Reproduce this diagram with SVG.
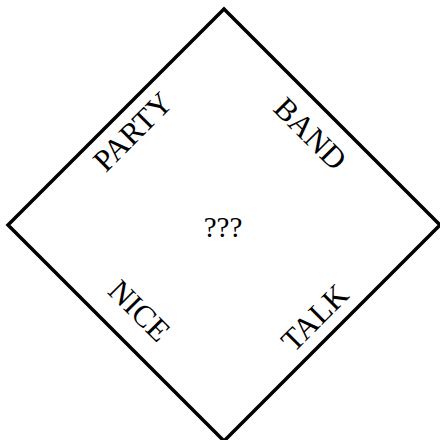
<svg xmlns="http://www.w3.org/2000/svg" width="440" height="440" viewBox="0 0 440 440">
<style>
.lbl{font-family:"Liberation Serif","Times New Roman",serif;font-size:31px;fill:#000;text-anchor:middle}
</style>
<rect width="440" height="440" fill="#fff"/>
<g id="diamond">
<polygon points="224,9 440,225 224,441 8,225" fill="none" stroke="#000" stroke-width="3.5"/>
</g>
<g id="party"><text class="lbl" transform="translate(140,139) rotate(-45)">PARTY</text></g>
<g id="band"><text class="lbl" transform="translate(303,141) rotate(45)">BAND</text></g>
<g id="nice"><text class="lbl" transform="translate(132,318) rotate(45)">NICE</text></g>
<g id="talk"><text class="lbl" transform="translate(322,325) rotate(-45)">TALK</text></g>
<g id="center"><text class="lbl" x="223" y="237" style="font-size:29px">???</text></g>
</svg>
